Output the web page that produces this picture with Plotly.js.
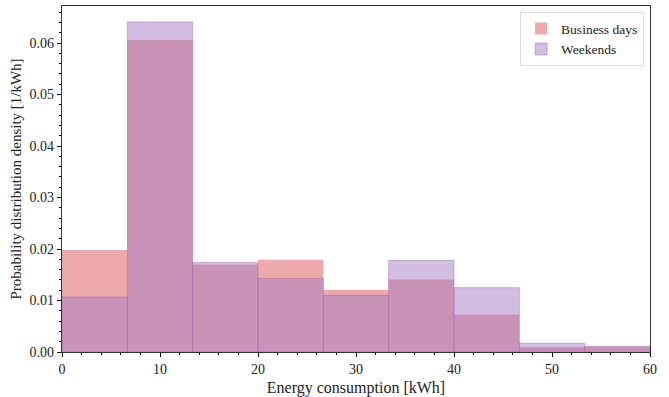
<!DOCTYPE html>
<html>
<head>
<meta charset="utf-8">
<script src="https://cdn.plot.ly/plotly-3.0.1.min.js"></script>
<style>html,body{margin:0;padding:0;background:#fff;}#chart{width:669px;height:397px;}</style>
</head>
<body>
<div id="chart"></div>
<script>
// Bin edges 0..60 in 9 bins
const binStart = [0, 6.667, 13.333, 20, 26.667, 33.333, 40, 46.667, 53.333];
const binWidth = [6.667, 6.667, 6.667, 6.667, 6.667, 6.667, 6.667, 6.667, 6.667];
const businessDays = [0.0198, 0.0606, 0.0170, 0.0179, 0.0121, 0.0141, 0.0073, 0.0009, 0.0010];
const weekends     = [0.0107, 0.0641, 0.0174, 0.0143, 0.0110, 0.0178, 0.0125, 0.0017, 0.0011];
const seriesNames = ["Business days", "Weekends"];

const serif = "Liberation Serif";

const traces = [
  {
    type: "bar", name: seriesNames[0], x: binStart, y: businessDays, width: binWidth,
    offset: 0,
    marker: {color: "rgba(220,82,84,0.5)", line: {width: 0}},
    hoverinfo: "skip"
  },
  {
    type: "bar", name: seriesNames[1], x: binStart, y: weekends, width: binWidth,
    offset: 0,
    marker: {color: "rgba(165,125,200,0.5)", line: {width: 0.8, color: "rgba(160,95,170,0.55)"}},
    hoverinfo: "skip"
  }
];

const layout = {
  width: 669, height: 397,
  margin: {l: 62, r: 19, t: 6, b: 45},
  barmode: "overlay",
  paper_bgcolor: "#fff", plot_bgcolor: "#fff",
  font: {family: serif, size: 14, color: "#222"},
  showlegend: true,
  legend: {
    x: 0.99, y: 0.982, xanchor: "right", yanchor: "top",
    bgcolor: "rgba(255,255,255,0.8)", bordercolor: "#dddddd", borderwidth: 1,
    font: {family: serif, size: 13.5, color: "#222"},
    itemwidth: 30, tracegroupgap: 0
  },
  xaxis: {
    range: [0, 60], tickvals: [0, 10, 20, 30, 40, 50, 60],
    ticks: "outside", ticklen: 4, tickwidth: 1, tickcolor: "#000",
    showline: true, linecolor: "#333", linewidth: 1.2, mirror: true,
    showgrid: false, zeroline: false,
    minor: {dtick: 2, ticks: "outside", ticklen: 2, tickcolor: "#000", showgrid: false},
    title: {text: "Energy consumption [kWh]", font: {family: serif, size: 16, color: "#222"}, standoff: 6},
    tickfont: {family: serif, size: 14, color: "#222"}
  },
  yaxis: {
    range: [0, 0.0672], tickvals: [0, 0.01, 0.02, 0.03, 0.04, 0.05, 0.06],
    tickformat: ".2f",
    ticks: "outside", ticklen: 4, tickwidth: 1, tickcolor: "#000",
    showline: true, linecolor: "#333", linewidth: 1.2, mirror: true,
    showgrid: false, zeroline: false,
    minor: {dtick: 0.002, ticks: "outside", ticklen: 2, tickcolor: "#000", showgrid: false},
    title: {text: "Probability distribution density [1/kWh]", font: {family: serif, size: 15, color: "#222"}, standoff: 4},
    tickfont: {family: serif, size: 14, color: "#222"}
  }
};

Plotly.newPlot("chart", traces, layout, {displayModeBar: false, staticPlot: true});
</script>
</body>
</html>
